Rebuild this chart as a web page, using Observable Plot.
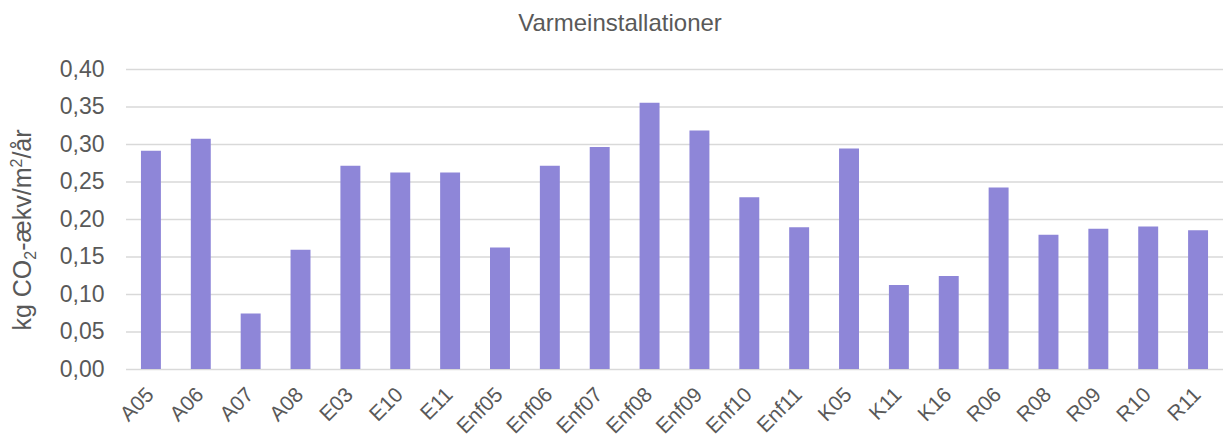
<!DOCTYPE html>
<html>
<head>
<meta charset="utf-8">
<script src="https://cdn.jsdelivr.net/npm/d3@7"></script>
<script src="https://cdn.jsdelivr.net/npm/@observablehq/plot@0.6"></script>
<style>
  body { margin: 0; background: #fff; font-family: "Liberation Sans", Arial, sans-serif; }
  #title { width: 1223px; height: 40px; box-sizing: border-box; padding-left: 17px; text-align: center;
           font-size: 24px; line-height: 46px; color: #595959; }
  #chart svg { display: block; }
</style>
</head>
<body>
<div id="title">Varmeinstallationer</div>
<div id="chart"></div>
<script>
const categories = ["A05","A06","A07","A08","E03","E10","E11","Enf05","Enf06","Enf07","Enf08","Enf09","Enf10","Enf11","K05","K11","K16","R06","R08","R09","R10","R11"];
const values = [0.291,0.307,0.074,0.159,0.271,0.262,0.262,0.162,0.271,0.296,0.355,0.318,0.229,0.189,0.294,0.112,0.124,0.242,0.179,0.187,0.190,0.185];
const yTicks = [0,0.05,0.10,0.15,0.20,0.25,0.30,0.35,0.40];

const data = categories.map((c, i) => ({category: c, value: values[i]}));
const fmt = d => d.toFixed(2).replace(".", ",");

const plot = Plot.plot({
  width: 1223,
  height: 406,
  marginTop: 29,
  marginBottom: 77,
  marginLeft: 126,
  marginRight: 0,
  style: {fontFamily: "Liberation Sans, Arial, sans-serif", color: "#595959", background: "#fff"},
  x: {domain: categories, paddingInner: 0.6, paddingOuter: 0.3, round: false, label: null, axis: null},
  y: {domain: [0, 0.40], label: null},
  marks: [
    Plot.ruleY(yTicks, {stroke: "#d9d9d9", strokeWidth: 1.5}),
    Plot.barY(data, {x: "category", y: "value", fill: "#8e86d8"}),
    Plot.axisY({ticks: yTicks, tickFormat: fmt, tickSize: 0, tickPadding: 22, fontSize: 23, fill: "#595959", label: null})
  ]
});
document.getElementById("chart").appendChild(plot);

const svg = d3.select(plot);
const xs = plot.scale("x");
const ys = plot.scale("y");
const y0 = ys.apply(0);

// Rotated category labels positioned through Plot's x scale
svg.append("g")
  .attr("fill", "#595959")
  .attr("font-size", 21)
  .attr("font-family", "Liberation Sans, Arial, sans-serif")
  .attr("text-anchor", "end")
  .selectAll("text")
  .data(categories)
  .join("text")
  .attr("transform", d => `translate(${xs.apply(d) + xs.bandwidth / 2 + 4},${y0 + 27}) rotate(-45)`)
  .text(d => d);

// Y axis title with sub/superscript
const t = svg.append("text")
  .attr("transform", "translate(31, 190) rotate(-90)")
  .attr("text-anchor", "middle")
  .attr("fill", "#595959")
  .attr("font-size", 25)
  .attr("font-family", "Liberation Sans, Arial, sans-serif");
t.append("tspan").text("kg CO");
t.append("tspan").attr("font-size", 16).attr("dy", 5).text("2");
t.append("tspan").attr("dy", -5).text("-ækv/m");
t.append("tspan").attr("font-size", 16).attr("dy", -9).text("2");
t.append("tspan").attr("dy", 9).text("/år");
</script>
</body>
</html>
